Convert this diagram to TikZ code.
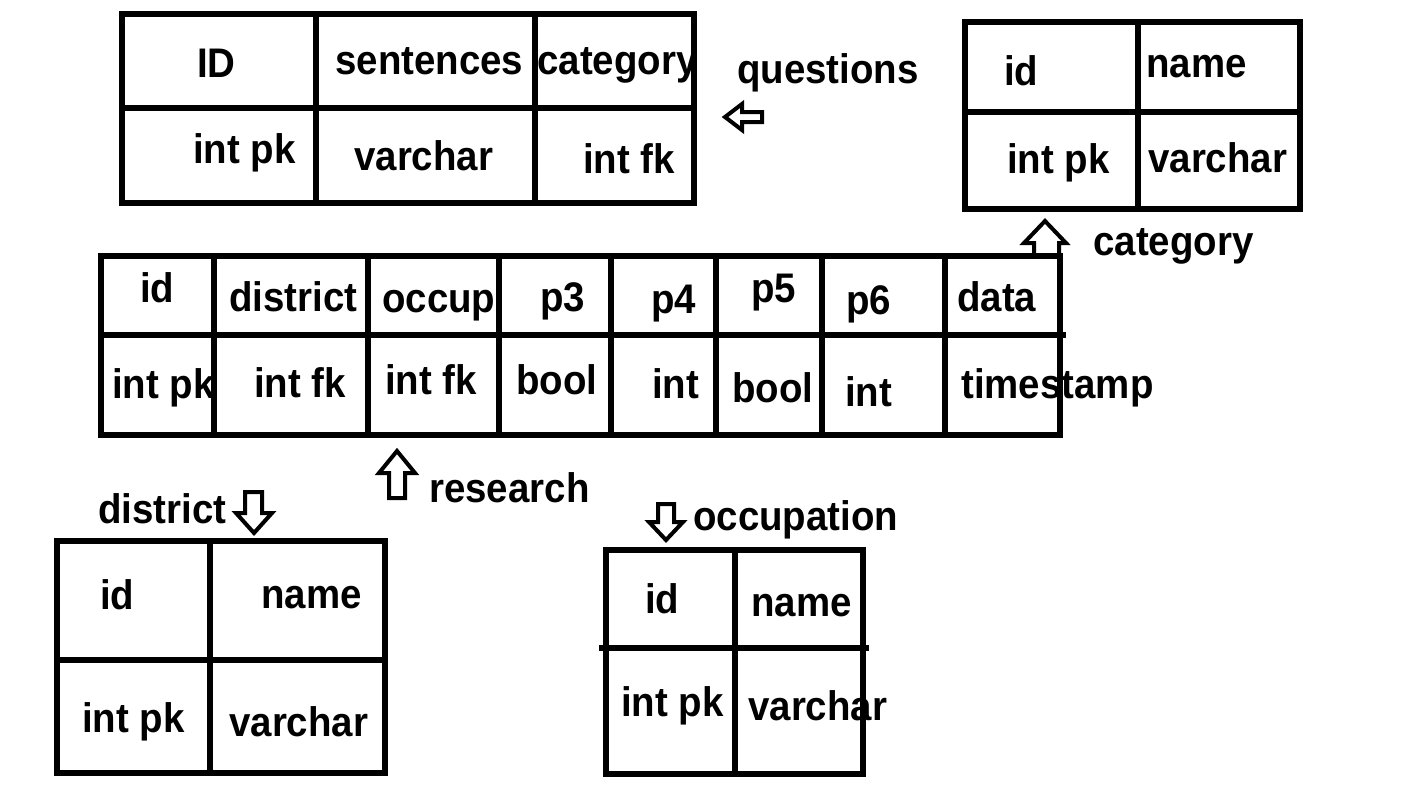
\documentclass[tikz,border=0pt]{standalone}
\usepackage{fontspec}
\setmainfont{Liberation Sans}[FakeStretch=0.93]
\begin{document}
\begin{tikzpicture}[x=0.75pt,y=-0.75pt,
  grid/.style={line width=3.8pt,line cap=rect},
  txt/.style={anchor=base west,inner sep=0pt,font=\fontsize{31}{31}\selectfont\bfseries},
  barrow/.style={line width=3pt,line join=miter,fill=white}]
\useasboundingbox (0,0) rectangle (1407,804);
% ---------- questions ----------
\draw[grid] (122,14) rectangle (694,203);
\draw[grid] (122,108) -- (694,108);
\draw[grid] (316,14) -- (316,203);
\draw[grid] (535,14) -- (535,203);
\node[txt] (qid) at (197,77) {ID};
\node[txt] (qsen) at (335,74) {sentences};
\node[txt] (qcat) at (537,74) {category};
\node[txt] (qidt) at (193,163) {int pk};
\node[txt] (qsent) at (354,170) {varchar};
\node[txt] (qcatt) at (583,173) {int fk};
\node[txt] (qlbl) at (737,83) {questions};
\draw[barrow] (725,117) -- (742,104) -- (742,112) -- (762,112) -- (762,122) -- (742,122) -- (742,130) -- cycle;
% ---------- category ----------
\draw[grid] (965,22) rectangle (1300,209);
\draw[grid] (965,112) -- (1300,112);
\draw[grid] (1138,22) -- (1138,209);
\node[txt] (cid) at (1004,85) {id};
\node[txt] (cname) at (1146,77) {name};
\node[txt] (cidt) at (1007,173) {int pk};
\node[txt] (cnamet) at (1148,172) {varchar};
\node[txt] (clbl) at (1093,255) {category};
\draw[barrow] (1045,221) -- (1066,243) -- (1059,243) -- (1059,256) -- (1034,256) -- (1034,243) -- (1024,243) -- cycle;
% ---------- research ----------
\draw[grid] (101,256) rectangle (1060,435);
\draw[grid] (101,335) -- (1063,335);
\foreach \x in {214,368,499,611,716,822,945}
  \draw[grid] (\x,256) -- (\x,435);
\node[txt] (rid) at (140,302) {id};
\node[txt] (rdis) at (229,311) {district};
\node[txt] (rocc) at (382,312) {occup};
\node[txt] (rp3) at (540,311) {p3};
\node[txt] (rp4) at (651,313) {p4};
\node[txt] (rp5) at (751,302) {p5};
\node[txt] (rp6) at (846,314) {p6};
\node[txt] (rdat) at (957,311) {data};
\node[txt] (ridt) at (112,398) {int pk};
\node[txt] (rdist) at (254,397) {int fk};
\node[txt] (rocct) at (385,394) {int fk};
\node[txt] (rp3t) at (516,394) {bool};
\node[txt] (rp4t) at (652,398) {int};
\node[txt] (rp5t) at (732,402) {bool};
\node[txt] (rp6t) at (845,406) {int};
\node[txt] (rdatt) at (961,398) {timestamp};
\node[txt] (rlbl) at (429,502) {research};
\draw[barrow] (397,451) -- (415,473) -- (405,473) -- (405,498) -- (389,498) -- (389,473) -- (379,473) -- cycle;
% ---------- district ----------
\draw[grid] (57,541) rectangle (385,773);
\draw[grid] (57,660) -- (385,660);
\draw[grid] (210,541) -- (210,773);
\node[txt] (dlbl) at (98,523) {district};
\draw[barrow] (254,533) -- (272,513) -- (262,513) -- (262,492) -- (245,492) -- (245,513) -- (236,513) -- cycle;
\node[txt] (did) at (100,609) {id};
\node[txt] (dname) at (261,608) {name};
\node[txt] (didt) at (82,732) {int pk};
\node[txt] (dnamet) at (229,736) {varchar};
% ---------- occupation ----------
\draw[grid] (606,550) rectangle (863,774);
\draw[grid] (602,648) -- (866,648);
\draw[grid] (735,550) -- (735,774);
\node[txt] (olbl) at (693,530) {occupation};
\draw[barrow] (666,540) -- (683,522) -- (674,522) -- (674,504) -- (658,504) -- (658,522) -- (649,522) -- cycle;
\node[txt] (oid) at (645,613) {id};
\node[txt] (oname) at (751,616) {name};
\node[txt] (oidt) at (621,716) {int pk};
\node[txt] (onamet) at (748,720) {varchar};
\end{tikzpicture}
\end{document}
